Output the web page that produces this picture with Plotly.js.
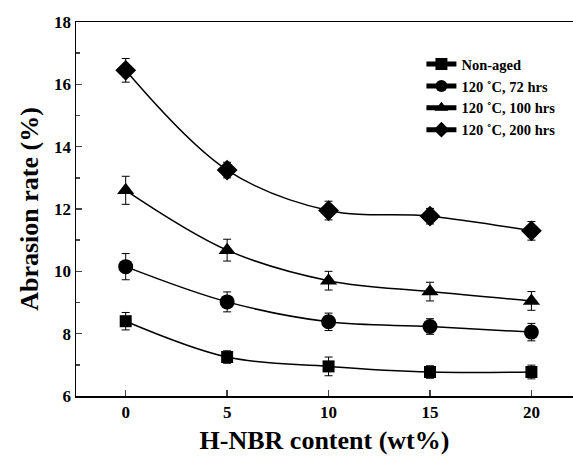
<!DOCTYPE html>
<html>
<head>
<meta charset="utf-8">
<script src="https://cdn.plot.ly/plotly-3.0.1.min.js"></script>
<style>html,body{margin:0;padding:0;background:#fff;}</style>
</head>
<body>
<div id="chart" style="width:573px;height:461px;"></div>
<script>
const hnbr = [0, 5, 10, 15, 20];
const nonAged = [8.4, 7.25, 6.95, 6.77, 6.77];
const nonAgedErr = [0.28, 0.2, 0.3, 0.2, 0.22];
const h72 = [10.15, 9.02, 8.38, 8.23, 8.05];
const h72Err = [0.42, 0.32, 0.28, 0.25, 0.28];
const h100 = [12.6, 10.68, 9.7, 9.35, 9.05];
const h100Err = [0.45, 0.35, 0.3, 0.3, 0.3];
const h200 = [16.45, 13.25, 11.95, 11.77, 11.3];
const h200Err = [0.38, 0.25, 0.3, 0.25, 0.3];
const seriesNames = ["Non-aged", "120 \u02daC, 72 hrs", "120 \u02daC, 100 hrs", "120 \u02daC, 200 hrs"];
const symbols = ["square", "circle", "triangle-up", "diamond"];
const sizes = [12, 15, 15, 16];

const ys = [nonAged, h72, h100, h200];
const errs = [nonAgedErr, h72Err, h100Err, h200Err];
const font = "Liberation Serif, Times New Roman, serif";

const traces = ys.map((y, i) => ({
  x: hnbr, y: y, name: seriesNames[i], type: "scatter", mode: "lines+markers",
  line: {shape: "spline", smoothing: 1, color: "#000", width: 1.5},
  marker: {symbol: symbols[i], size: sizes[i], color: "#000"},
  error_y: {type: "data", array: errs[i], visible: true, color: "#000", thickness: 1, width: 4}
}));

const layout = {
  width: 573, height: 461,
  margin: {l: 76, r: 0, t: 22, b: 65},
  paper_bgcolor: "#fff", plot_bgcolor: "#fff",
  font: {family: font, color: "#000"},
  showlegend: true,
  legend: {x: 0.695, y: 0.93, xanchor: "left", yanchor: "top", bgcolor: "rgba(0,0,0,0)",
    font: {family: font, size: 14.5, weight: "bold"}, tracegroupgap: 0, itemsizing: "constant"},
  xaxis: {
    range: [-2.45, 22.05], tickvals: hnbr, ticks: "inside", ticklen: 6, tickwidth: 1.5,
    showgrid: false, zeroline: false, showline: true, linewidth: 1.5, linecolor: "#000", mirror: true,
    tickfont: {family: font, size: 17, weight: "bold"},
    title: {text: "H-NBR content (wt%)", font: {family: font, size: 26, weight: "bold"}, standoff: 10}
  },
  yaxis: {
    range: [6, 18], dtick: 2, ticks: "inside", ticklen: 6, tickwidth: 1.5,
    minor: {dtick: 1, ticks: "inside", ticklen: 4, tickwidth: 1.5, showgrid: false},
    showgrid: false, zeroline: false, showline: true, linewidth: 1.5, linecolor: "#000", mirror: false,
    tickfont: {family: font, size: 17, weight: "bold"},
    title: {text: "Abrasion rate (%)", font: {family: font, size: 26, weight: "bold"}, standoff: 8}
  }
};

Plotly.newPlot("chart", traces, layout, {displayModeBar: false, staticPlot: true});
</script>
</body>
</html>
